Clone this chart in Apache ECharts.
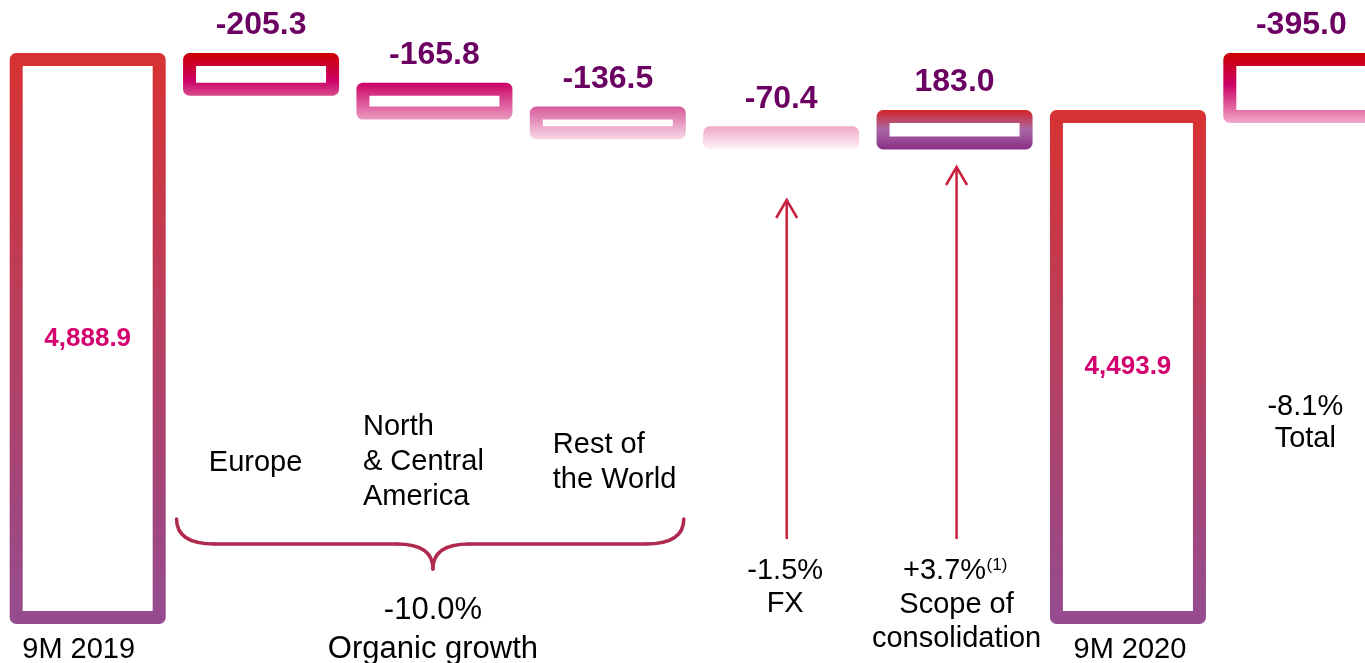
<!DOCTYPE html>
<html>
<head>
<meta charset="utf-8">
<title>Revenue bridge 9M 2019 - 9M 2020</title>
<script src="https://cdn.jsdelivr.net/npm/echarts@6.0.0/dist/echarts.min.js"></script>
<style>
  html, body { margin: 0; padding: 0; background: #fff; }
  #chart { width: 1365px; height: 663px; }
</style>
</head>
<body>
<div id="chart"></div>
<script>
// bridge steps, left to right
const categories = ['9M 2019', 'Europe', 'North & Central America', 'Rest of the World', 'FX', 'Scope of consolidation', '9M 2020', 'Total'];
const stepValues = [4888.9, -205.3, -165.8, -136.5, -70.4, 183.0, 4493.9, -395.0];
// total = bar from the axis floor, delta = floating step, change = gap between the two totals
const stepKinds = ['total', 'delta', 'delta', 'delta', 'delta', 'delta', 'total', 'change'];

// axis is cut, the bars don't start at zero
const yMin = 1020;
const yMax = 5000;

// border gradients (top -> bottom), one per bar
const borderStops = [
  [[0, '#D83232'], [1, '#944C90']],
  [[0, '#CC0000'], [0.65, '#CC0066'], [1, '#D84C8C']],
  [[0, '#CC0066'], [1, '#EA9CC2']],
  [[0, '#D65A9A'], [1, '#F8D8E8']],
  [[0, '#EFA6C8'], [1, '#FFF4F8']],
  [[0, '#D42424'], [0.5, '#A868A8'], [1, '#8A2F85']],
  [[0, '#D83232'], [1, '#944C90']],
  [[0, '#CC0000'], [0.45, '#CC0066'], [1, '#F2AACB']]
];

const FONT = '"Liberation Sans", Arial, sans-serif';
const BAR_W = 143;
const BORDER = 13;
const fmt = v => v.toLocaleString('en-US', {minimumFractionDigits: 1, maximumFractionDigits: 1});

// [category index, low, high] for every step
const rangeData = [];
let running = 0;
stepValues.forEach((v, i) => {
  let lo, hi;
  if (stepKinds[i] === 'total') {
    lo = yMin; hi = v; running = v;
  } else if (stepKinds[i] === 'change') {
    lo = Math.min(running, running - v); hi = Math.max(running, running - v);
  } else {
    lo = Math.min(running, running + v); hi = Math.max(running, running + v);
    running += v;
  }
  rangeData.push([i, lo, hi]);
});

// rect with the border centred on the value edges (bar series would pull it inside)
function renderStep(params, api) {
  const i = params.dataIndex;
  const top = api.coord([api.value(0), api.value(2)]);
  const bot = api.coord([api.value(0), api.value(1)]);
  const x = top[0] - BAR_W / 2;
  const isTotal = stepKinds[i] === 'total';
  const grad = new echarts.graphic.LinearGradient(0, 0, 0, 1,
    borderStops[i].map(s => ({offset: s[0], color: s[1]})));
  const label = isTotal
    ? { type: 'text', x: top[0], y: (top[1] + bot[1]) / 2,
        style: { text: fmt(stepValues[i]), fill: '#D4006E', fontSize: 26, fontWeight: 'bold', fontFamily: FONT, align: 'center', verticalAlign: 'middle' } }
    : { type: 'text', x: top[0], y: top[1] - 18,
        style: { text: fmt(stepValues[i]), fill: '#6B0062', fontSize: 32, fontWeight: 'bold', fontFamily: FONT, align: 'center', verticalAlign: 'bottom' } };
  return {
    type: 'group',
    children: [
      { type: 'rect',
        shape: { x: x, y: top[1], width: BAR_W, height: bot[1] - top[1] },
        style: { fill: '#fff', stroke: grad, lineWidth: BORDER, lineJoin: 'round' } },
      label
    ]
  };
}

const chart = echarts.init(document.getElementById('chart'));

chart.setOption({
  animation: false,
  textStyle: { fontFamily: FONT },
  grid: { left: 1, top: 43.5, width: 1387, height: 574, outerBoundsMode: 'none', containLabel: false },
  xAxis: {
    type: 'category',
    data: categories,
    axisLine: { show: false },
    axisTick: { show: false },
    axisLabel: { show: false }
  },
  yAxis: {
    type: 'value',
    min: yMin,
    max: yMax,
    show: false,
    splitLine: { show: false }
  },
  series: [
    {
      name: 'bridge',
      type: 'custom',
      silent: true,
      clip: false,
      encode: { x: 0, y: [1, 2] },
      renderItem: renderStep,
      data: rangeData
    }
  ]
});

// annotations, placed from the category centres
const xc = i => chart.convertToPixel({xAxisIndex: 0}, i);
const ARROW = '#C8203F';
const BRACE = '#B0294F';

const txt = (x, y, text, size, align, lineHeight) => ({
  type: 'text', x: x, y: y, silent: true,
  style: {
    text: text, fill: '#000', fontSize: size || 29, fontFamily: FONT,
    align: align || 'center', verticalAlign: 'middle', lineHeight: lineHeight || 35
  }
});

const arrow = (x, yTop, yBottom) => ([
  { type: 'line', silent: true, shape: { x1: x, y1: yTop + 1, x2: x, y2: yBottom }, style: { stroke: ARROW, lineWidth: 2.5 } },
  { type: 'polyline', silent: true, shape: { points: [[x - 10.5, yTop + 18], [x, yTop], [x + 10.5, yTop + 18]] }, style: { stroke: ARROW, lineWidth: 2.5, fill: null } }
]);

const seg = (x1, y1, x2, y2) => ({ type: 'line', silent: true, shape: { x1, y1, x2, y2 }, style: { stroke: BRACE, lineWidth: 3.5, lineCap: 'round' } });
const curve = (x1, y1, cpx, cpy, x2, y2) => ({ type: 'bezierCurve', silent: true, shape: { x1, y1, cpx1: cpx, cpy1: cpy, x2, y2 }, style: { stroke: BRACE, lineWidth: 3.5, fill: null, lineCap: 'round' } });

const bL = xc(1) - 84.5, bR = xc(3) + 76, bM = xc(2) - 1.5;
const brace = [
  curve(bL, 519, bL, 544, bL + 38, 544),
  seg(bL + 38, 544, bM - 36, 544),
  curve(bM - 36, 544, bM, 544, bM, 569),
  curve(bM, 569, bM, 544, bM + 36, 544),
  seg(bM + 36, 544, bR - 38, 544),
  curve(bR - 38, 544, bR, 544, bR, 519)
];

chart.setOption({
  graphic: [
    txt(xc(0) - 9, 650, '9M 2019'),
    txt(xc(1) - 5.5, 463, 'Europe'),
    txt(xc(2) - 71.5, 462, 'North\n& Central\nAmerica', 29, 'left', 35),
    txt(xc(3) - 55, 462.5, 'Rest of\nthe World', 29, 'left', 35),
    ...brace,
    txt(bM, 610, '-10.0%', 31),
    txt(bM, 649, 'Organic growth', 31),
    ...arrow(xc(4) + 5.5, 200, 539),
    txt(xc(4) + 4, 587.5, '-1.5%\nFX', 29, 'center', 33),
    ...arrow(xc(5) + 2, 167, 539),
    txt(xc(5) - 10, 571, '+3.7%'),
    txt(xc(5) + 32, 565, '(1)', 17, 'left'),
    txt(xc(5) + 2, 622, 'Scope of\nconsolidation', 29, 'center', 34),
    txt(xc(6) + 2, 650, '9M 2020'),
    txt(xc(7) + 4, 423, '-8.1%\nTotal', 29, 'center', 32)
  ]
});
</script>
</body>
</html>
